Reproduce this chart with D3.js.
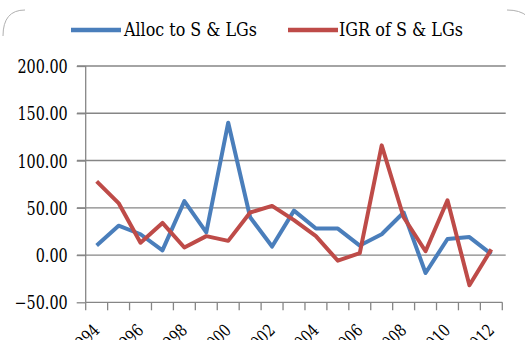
<!DOCTYPE html>
<html><head><meta charset="utf-8">
<script src="https://cdn.jsdelivr.net/npm/d3@7"></script>
<style>
html,body{margin:0;padding:0;background:#fff;}
svg{display:block;}
text{font-family:"DejaVu Serif";}
</style></head>
<body>
<svg id="chart" width="525" height="340"></svg>
<script>
const years = [1994,1995,1996,1997,1998,1999,2000,2001,2002,2003,2004,2005,2006,2007,2008,2009,2010,2011,2012];
const allocSLG = [10,31,22,5,57,24,140,40,9,47,28,28,10,22,45,-19,17,19,1];
const igrSLG = [78,55,13,34,8,20,15,45,52,37,20,-6,2,116,40,4,58,-32,6];
const yTicks = [-50,0,50,100,150,200];
const xLabels = [1994,1996,1998,2000,2002,2004,2006,2008,2010,2012];
const seriesNames = ["Alloc to S & LGs","IGR of S & LGs"];
const colors = ["#4a7ebb","#be4b48"];

const svg = d3.select("#chart");
const mLeft = 85.7, mRight = 502.3, mTop = 66, mBottom = 302.3;
const x = d3.scaleBand().domain(years).range([mLeft, mRight]).padding(0);
const y = d3.scaleLinear().domain([-50,200]).range([mBottom, mTop]);
const cx = d => x(d) + x.bandwidth()/2;
const sx = 0.8;

// corner arcs of frame
svg.append("path").attr("d","M3,36 Q3,10 25,10").attr("fill","none").attr("stroke","#b0b0b0").attr("stroke-width",1);
svg.append("path").attr("d","M507,10 Q520,10 527,16").attr("fill","none").attr("stroke","#b0b0b0").attr("stroke-width",1);

// gridlines
svg.append("g").selectAll("line").data(yTicks.filter(t=>t!==-50)).join("line")
  .attr("x1", 77).attr("x2", 505.7)
  .attr("y1", d=>y(d)).attr("y2", d=>y(d))
  .attr("stroke","#868686").attr("stroke-width",1.3);

// y axis
const yAxis = d3.axisLeft(y).tickValues(yTicks).tickSize(9).tickFormat(d3.format(".2f"));
const gy = svg.append("g").attr("transform",`translate(${mLeft},0)`).call(yAxis);
gy.attr("font-family", null).attr("font-size", null);
gy.select(".domain").attr("stroke","#868686").attr("stroke-width",1.3).attr("d",`M0,${mTop}V${mBottom}`);
gy.selectAll(".tick line").attr("stroke","#868686").attr("stroke-width",1.3);
gy.selectAll(".tick text").attr("x",-18/sx).attr("fill","#000").attr("dy","0.36em")
  .attr("transform",`scale(${sx},1)`).style("font-size","18px");

// x axis
const xAxis = d3.axisBottom(x).tickSize(0).tickFormat("");
const gx = svg.append("g").attr("transform",`translate(0,${mBottom})`).call(xAxis);
gx.select(".domain").attr("stroke","#868686").attr("stroke-width",1.3).attr("d",`M${mLeft},0H${mRight}`);
const bounds = years.map(d=>x(d)).concat([mRight]);
gx.append("g").selectAll("line").data(bounds).join("line")
  .attr("x1",d=>d).attr("x2",d=>d).attr("y1",0).attr("y2",8)
  .attr("stroke","#868686").attr("stroke-width",1.3);
gx.append("g").selectAll("text").data(xLabels).join("text")
  .attr("transform",d=>`translate(${cx(d)+4},${29}) rotate(-45) scale(${sx},1)`)
  .attr("text-anchor","end").attr("fill","#000")
  .style("font-size","17px").text(d=>d);

// lines
const line = d3.line().x((d,i)=>cx(years[i])).y(d=>y(d));
[allocSLG, igrSLG].forEach((s,i)=>{
  svg.append("path").datum(s).attr("d",line).attr("fill","none")
    .attr("stroke",colors[i]).attr("stroke-width",4).attr("stroke-linejoin","round");
});

// legend
const leg = [{x:71, tx:124, w:133},{x:288, tx:339, w:124}];
leg.forEach((l,i)=>{
  svg.append("line").attr("x1",l.x).attr("x2",l.x+50).attr("y1",30).attr("y2",30)
    .attr("stroke",colors[i]).attr("stroke-width",4.5);
  svg.append("text").attr("x",l.tx).attr("y",36).attr("fill","#000")
    .style("font-size","18px")
    .attr("textLength",l.w).attr("lengthAdjust","spacingAndGlyphs").text(seriesNames[i]);
});
</script>
</body></html>
